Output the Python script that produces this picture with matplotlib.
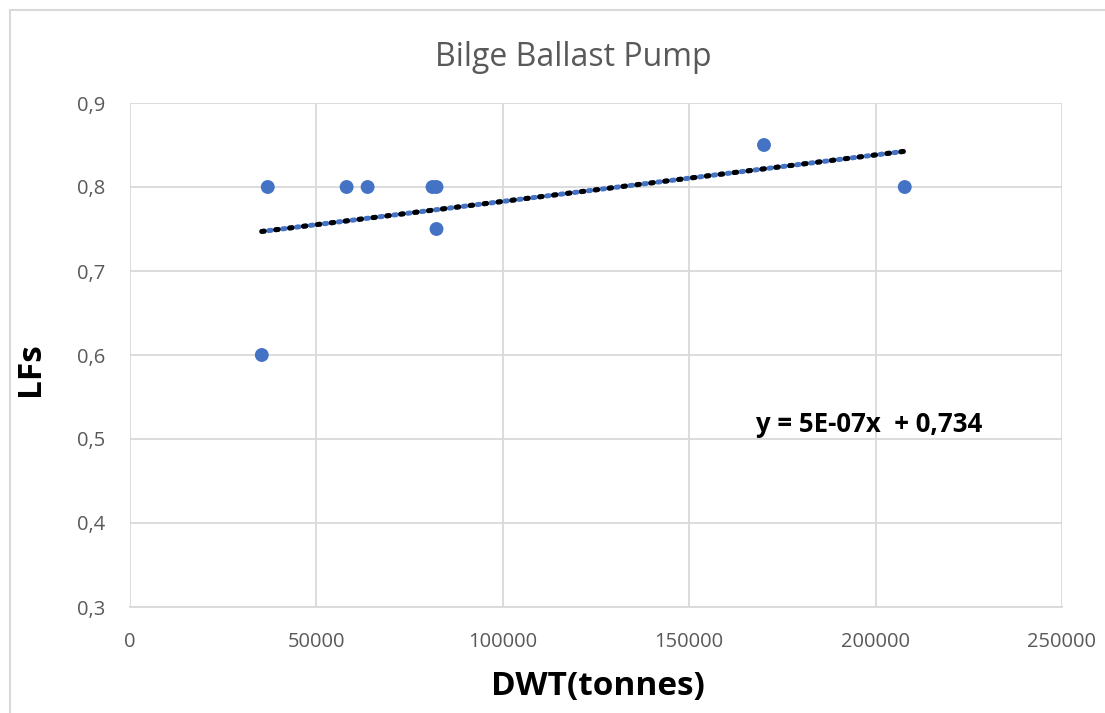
import matplotlib
matplotlib.use("Agg")
import matplotlib.pyplot as plt
import numpy as np
from matplotlib.ticker import FuncFormatter
from matplotlib.lines import Line2D

title = "Bilge Ballast Pump"
x_label = "DWT(tonnes)"
y_label = "LFs"
equation = "y = 5E-07x  + 0,734"

dwt = [35350, 36960, 58110, 63740, 81150, 82220, 82220, 170060, 207820]
lfs = [0.60, 0.80, 0.80, 0.80, 0.80, 0.80, 0.75, 0.85, 0.80]

x_ticks = [0, 50000, 100000, 150000, 200000, 250000]
y_ticks = [0.3, 0.4, 0.5, 0.6, 0.7, 0.8, 0.9]

font = "Open Sans"
grey = "#595959"
blue = "#4472C4"

fig = plt.figure(figsize=(11.05, 7.13), dpi=100)
ax = fig.add_axes([130/1105, 1-607/713, (1062-130)/1105, (607-103)/713])

ax.set_xlim(0, 250000)
ax.set_ylim(0.3, 0.9)
ax.set_xticks(x_ticks)
ax.set_yticks(y_ticks)
ax.xaxis.set_major_formatter(FuncFormatter(lambda v, p: f"{int(v)}"))
ax.yaxis.set_major_formatter(FuncFormatter(lambda v, p: f"{v:.1f}".replace(".", ",")))
ax.grid(True, color="#d9d9d9", linewidth=1.3)
ax.set_axisbelow(True)
for s in ["top", "right", "left"]:
    ax.spines[s].set_visible(False)
ax.spines["bottom"].set_color("#d9d9d9")
ax.spines["bottom"].set_linewidth(1.3)
ax.tick_params(axis="x", length=0, labelsize=14.5, labelcolor=grey, pad=18)
ax.tick_params(axis="y", length=0, labelsize=14.5, labelcolor=grey, pad=18)
for lab in ax.get_xticklabels() + ax.get_yticklabels():
    lab.set_fontfamily(font)

# trendline
coef = np.polyfit(dwt, lfs, 1)
xt = np.array([min(dwt), max(dwt)])
yt = np.polyval(coef, xt)
ax.plot(xt, yt, color=blue, linewidth=3.6, linestyle=(0, (0.5, 0.9)), zorder=2,
        dash_capstyle="round")
ax.plot(xt, yt, color="black", linewidth=3.6, linestyle=(0, (0.5, 2.3)), zorder=2,
        dash_capstyle="round")

ax.scatter(dwt, lfs, s=100, color=blue, zorder=3, edgecolors="none")

fig.text(573/1105, 1-57/713, title, ha="center", va="center",
         fontsize=23, color=grey, family=font)
fig.text(598/1105, 1-686/713, x_label, ha="center", va="center",
         fontsize=24, fontweight="bold", color="black", family=font)
fig.text(30/1105, 1-369/713, y_label, ha="center", va="center", rotation=90,
         fontsize=24, fontweight="bold", color="black", family=font)
fig.text(869/1105, 1-424/713, equation, ha="center", va="center",
         fontsize=18.5, fontweight="bold", color="black", family=font)

# chart frame
fig.add_artist(Line2D([10/1105, 10/1105], [0, 1-10/713], transform=fig.transFigure,
                      color="#d9d9d9", linewidth=1.5))
fig.add_artist(Line2D([10/1105, 1], [1-10/713, 1-10/713], transform=fig.transFigure,
                      color="#d9d9d9", linewidth=1.5))

fig.savefig("out.png", dpi=100)
